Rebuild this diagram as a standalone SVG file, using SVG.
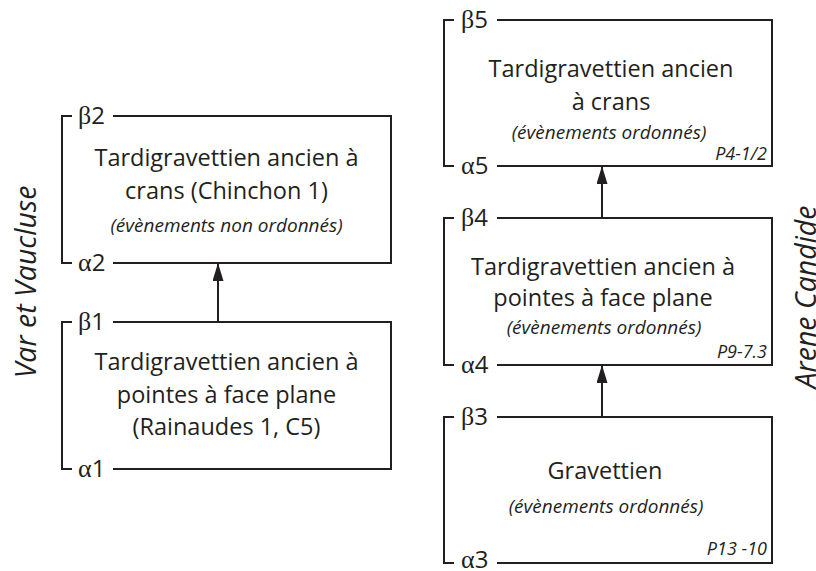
<svg xmlns="http://www.w3.org/2000/svg" width="816" height="571" viewBox="0 0 816 571">
<style>
.bx{fill:none;stroke:#231f20;stroke-width:2}
.t{font-family:"Open Sans","Noto Sans",sans-serif;font-size:23.5px;fill:#231f20;text-anchor:middle}
.i{font-family:"Open Sans","Noto Sans",sans-serif;font-size:19px;font-style:italic;fill:#231f20;text-anchor:middle}
.p{font-family:"Open Sans","Noto Sans",sans-serif;font-size:18px;font-style:italic;fill:#231f20;text-anchor:end}
.l{font-family:"Open Sans","Noto Sans",sans-serif;font-size:24px;fill:#231f20}
.g{font-family:"Liberation Serif","DejaVu Serif",serif;font-size:26px}
.s{font-family:"Open Sans","Noto Sans",sans-serif;font-size:28.5px;font-style:italic;fill:#231f20;text-anchor:middle}
.c{fill:none;stroke:#231f20;stroke-width:2}
</style>
<defs>
<marker id="ah" markerUnits="userSpaceOnUse" markerWidth="18" markerHeight="11" refX="18" refY="5.5" orient="auto" viewBox="0 0 18 11">
<path d="M0,0 L18,5.5 L0,11 Z" fill="#231f20"/>
</marker>
</defs>

<text class="s" transform="translate(36,282) rotate(-90)">Var et Vaucluse</text>
<text class="s" transform="translate(816,297) rotate(-90)">Arene Candide</text>

<g id="box2">
<path class="bx" d="M72,116 H62 V263 H72 M113,116 H391 V263 H113"/>
<text class="l" x="78" y="124"><tspan class="g">β</tspan>2</text>
<text class="l" x="78" y="271"><tspan class="g">α</tspan>2</text>
<text class="t" x="226.5" y="166">Tardigravettien ancien à</text>
<text class="t" x="226.5" y="199">crans (Chinchon 1)</text>
<text class="i" x="226.5" y="232">(évènements non ordonnés)</text>
</g>

<g id="box1">
<path class="bx" d="M72,322 H62 V469 H72 M113,322 H391 V469 H113"/>
<text class="l" x="78" y="330"><tspan class="g">β</tspan>1</text>
<text class="l" x="78" y="477"><tspan class="g">α</tspan>1</text>
<text class="t" x="226.5" y="370">Tardigravettien ancien à</text>
<text class="t" x="226.5" y="403">pointes à face plane</text>
<text class="t" x="226.5" y="435">(Rainaudes 1, C5)</text>
</g>

<g id="box5">
<path class="bx" d="M454,20 H444 V166 H454 M497,20 H772 V166 H497"/>
<text class="l" x="461" y="28"><tspan class="g">β</tspan>5</text>
<text class="l" x="461" y="174"><tspan class="g">α</tspan>5</text>
<text class="t" x="611" y="77">Tardigravettien ancien</text>
<text class="t" x="611" y="110">à crans</text>
<text class="i" x="609" y="139">(évènements ordonnés)</text>
<text class="p" x="767" y="160">P4-1/2</text>
</g>

<g id="box4">
<path class="bx" d="M454,218 H444 V365 H454 M497,218 H772 V365 H497"/>
<text class="l" x="461" y="226"><tspan class="g">β</tspan>4</text>
<text class="l" x="461" y="373"><tspan class="g">α</tspan>4</text>
<text class="t" x="603" y="275">Tardigravettien ancien à</text>
<text class="t" x="603" y="306">pointes à face plane</text>
<text class="i" x="604" y="334">(évènements ordonnés)</text>
<text class="p" x="767" y="358">P9-7.3</text>
</g>

<g id="box3">
<path class="bx" d="M454,417 H444 V563 H454 M497,417 H772 V563 H497"/>
<text class="l" x="461" y="425"><tspan class="g">β</tspan>3</text>
<text class="l" x="461" y="568"><tspan class="g">α</tspan>3</text>
<text class="t" x="605" y="479">Gravettien</text>
<text class="i" x="606" y="513">(évènements ordonnés)</text>
<text class="p" x="767" y="555">P13 -10</text>
</g>

<g id="connectors">
<line class="c" x1="218" y1="322" x2="218" y2="263" marker-end="url(#ah)"/>
<line class="c" x1="602" y1="218" x2="602" y2="166" marker-end="url(#ah)"/>
<line class="c" x1="602" y1="417" x2="602" y2="365" marker-end="url(#ah)"/>
</g>
</svg>
